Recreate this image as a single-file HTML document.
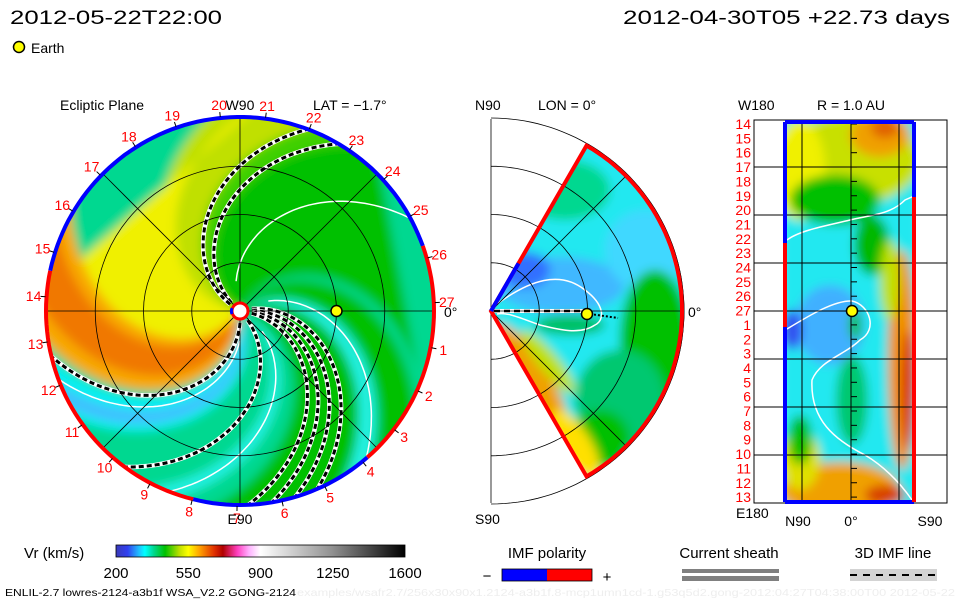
<!DOCTYPE html>
<html><head><meta charset="utf-8"><style>
html,body{margin:0;padding:0;background:#fff;}
svg{display:block;font-family:"Liberation Sans",sans-serif;}
</style></head><body>
<svg id="s" width="960" height="600" viewBox="0 0 960 600" xmlns="http://www.w3.org/2000/svg">
<defs>
<filter id="blur" x="-20%" y="-20%" width="140%" height="140%"><feGaussianBlur stdDeviation="5"/></filter>
<clipPath id="diskClip"><circle cx="240" cy="311" r="193"/></clipPath>
<clipPath id="wedgeClip"><path id="wedgePath" d=""/></clipPath>
<clipPath id="rectClip"><rect x="785" y="122" width="129" height="380"/></clipPath>
<linearGradient id="cbar" x1="0" x2="1" y1="0" y2="0">
<stop offset="0" stop-color="#3a3ab8"/><stop offset="0.04" stop-color="#3040f0"/>
<stop offset="0.08" stop-color="#20c0ff"/><stop offset="0.1" stop-color="#00ffff"/>
<stop offset="0.13" stop-color="#00d890"/><stop offset="0.17" stop-color="#00c000"/>
<stop offset="0.22" stop-color="#c0e000"/><stop offset="0.25" stop-color="#ffff00"/>
<stop offset="0.29" stop-color="#ffa000"/><stop offset="0.34" stop-color="#e03000"/>
<stop offset="0.37" stop-color="#b00000"/><stop offset="0.42" stop-color="#ff40c0"/>
<stop offset="0.46" stop-color="#ffb0ff"/><stop offset="0.5" stop-color="#ffffff"/>
<stop offset="0.75" stop-color="#909090"/><stop offset="1" stop-color="#000000"/>
</linearGradient>
</defs>

<text x="10" y="24" font-size="19" textLength="212" lengthAdjust="spacingAndGlyphs">2012-05-22T22:00</text>
<text x="623" y="24" font-size="19" textLength="327" lengthAdjust="spacingAndGlyphs">2012-04-30T05 +22.73 days</text>
<circle cx="19" cy="47" r="5.5" fill="#ffff00" stroke="#000" stroke-width="1.5"/>
<text x="31" y="53" font-size="14">Earth</text>

<g id="disk">
  <g clip-path="url(#diskClip)">
    <g id="diskFill" filter="url(#blur)"></g>
    <g id="diskLines"></g>
  </g>
  <g id="diskGrid" fill="none" stroke="#000" stroke-width="0.8"></g>
  <g id="diskBorder" fill="none" stroke-width="4"></g>
  <g id="diskLabels" font-size="14" fill="#ff0000"></g>
  <text x="60" y="110" font-size="14">Ecliptic Plane</text>
  <text x="240" y="110" font-size="14" text-anchor="middle">W90</text>
  <text x="313" y="110" font-size="14">LAT = −1.7°</text>
  <text x="240" y="524" font-size="14" text-anchor="middle">E90</text>
  <text x="444" y="317" font-size="14">0°</text>
</g>

<g id="mid">
  <g id="midGrid" fill="none" stroke="#000" stroke-width="0.8"></g>
  <g clip-path="url(#wedgeClip)">
    <g filter="url(#blur)">
      <rect x="480" y="100" width="220" height="420" fill="#20e8f0"/>
      <ellipse cx="565" cy="190" rx="45" ry="30" fill="#00d890"/>
      <ellipse cx="560" cy="285" rx="65" ry="28" fill="#40b8ff"/>
      <ellipse cx="525" cy="270" rx="25" ry="18" fill="#3070ff"/>
      <ellipse cx="645" cy="250" rx="40" ry="40" fill="#40d8ff"/>
      <ellipse cx="570" cy="325" rx="35" ry="10" fill="#00c060"/>
      <ellipse cx="655" cy="340" rx="35" ry="70" fill="#00c000"/>
      <ellipse cx="620" cy="400" rx="45" ry="50" fill="#00c870"/>
      <ellipse cx="600" cy="440" rx="30" ry="30" fill="#00c000"/>
      <ellipse cx="530" cy="380" rx="65" ry="20" fill="#f0a000" transform="rotate(58 530 380)"/>
      <ellipse cx="575" cy="445" rx="40" ry="16" fill="#ffe000" transform="rotate(58 575 445)"/>
      <ellipse cx="548" cy="362" rx="40" ry="10" fill="#c0e000" transform="rotate(50 548 362)"/>
    </g>
    <path d="M497 304 C530 280 560 270 585 290 C605 305 605 320 595 325 C580 335 560 330 540 325 C520 318 508 312 497 314" fill="none" stroke="#fff" stroke-width="1.5"/>
    <line x1="494" y1="311" x2="587" y2="311" stroke="#fff" stroke-width="4"/>
    <line x1="494" y1="311" x2="587" y2="311" stroke="#000" stroke-width="2.5" stroke-dasharray="6 4"/>
    <line x1="590" y1="314" x2="618" y2="318" stroke="#000" stroke-width="2" stroke-dasharray="2 2"/>
  </g>
  <g id="midGrid2" fill="none" stroke="#000" stroke-width="0.8"></g>
  <g id="midBorder" fill="none" stroke-width="4"></g>
  <circle cx="587" cy="314" r="5.5" fill="#ffff00" stroke="#000" stroke-width="1.5"/>
  <text x="475" y="110" font-size="14">N90</text>
  <text x="538" y="110" font-size="14">LON = 0°</text>
  <text x="475" y="524" font-size="14">S90</text>
  <text x="688" y="317" font-size="14">0°</text>
</g>

<g id="right">
  <rect x="754" y="120" width="193" height="383" fill="none" stroke="#000" stroke-width="1"/>
  <g clip-path="url(#rectClip)">
    <g filter="url(#blur)">
      <rect x="780" y="115" width="140" height="395" fill="#20e8f0"/>
      <ellipse cx="850" cy="160" rx="70" ry="45" fill="#c8e000"/>
      <ellipse cx="800" cy="170" rx="25" ry="50" fill="#f0f000"/>
      <ellipse cx="880" cy="135" rx="30" ry="22" fill="#f0a000"/>
      <ellipse cx="885" cy="128" rx="14" ry="10" fill="#e06000"/>
      <ellipse cx="835" cy="200" rx="45" ry="25" fill="#00c000"/>
      <ellipse cx="872" cy="245" rx="18" ry="30" fill="#00b800"/>
      <ellipse cx="830" cy="325" rx="35" ry="40" fill="#40b0ff"/>
      <ellipse cx="792" cy="330" rx="10" ry="20" fill="#3050f0"/>
      <ellipse cx="852" cy="400" rx="16" ry="45" fill="#00c870"/>
      <ellipse cx="855" cy="325" rx="6" ry="15" fill="#00c000"/>
      <ellipse cx="902" cy="360" rx="14" ry="110" fill="#f09000"/>
      <ellipse cx="908" cy="390" rx="7" ry="60" fill="#d83000"/>
      <ellipse cx="890" cy="280" rx="10" ry="40" fill="#c0e000"/>
      <ellipse cx="840" cy="490" rx="60" ry="28" fill="#f0a000"/>
      <ellipse cx="800" cy="460" rx="20" ry="30" fill="#e0e000"/>
      <ellipse cx="885" cy="495" rx="20" ry="10" fill="#d84000"/>
      <ellipse cx="800" cy="440" rx="12" ry="25" fill="#00c000"/>
    </g>
    <path d="M787 240 C800 230 830 225 850 220 C870 215 890 215 905 200 L914 196" fill="none" stroke="#fff" stroke-width="1.5"/>
    <path d="M787 329 C810 315 835 300 852 301 C870 305 878 330 860 340 C845 355 820 360 812 380 C810 420 835 440 865 455 C890 470 905 490 912 500" fill="none" stroke="#fff" stroke-width="1.5"/>
  </g>
  <g id="rightGrid" stroke="#000" stroke-width="1"></g>
  <g id="rightBorder" stroke-width="4"></g>
  <circle cx="852" cy="311" r="5.5" fill="#ffff00" stroke="#000" stroke-width="1.5"/>
  <g id="rightLabels" font-size="14" fill="#ff0000" text-anchor="end"></g>
  <text x="738" y="110" font-size="14">W180</text>
  <text x="851" y="110" font-size="14" text-anchor="middle">R = 1.0 AU</text>
  <text x="736" y="518" font-size="14">E180</text>
  <text x="798" y="526" font-size="14" text-anchor="middle">N90</text>
  <text x="851" y="526" font-size="14" text-anchor="middle">0°</text>
  <text x="930" y="526" font-size="14" text-anchor="middle">S90</text>
</g>

<g>
  <text x="24" y="558" font-size="15">Vr (km/s)</text>
  <rect x="116" y="545" width="289" height="12" fill="url(#cbar)" stroke="#000" stroke-width="0.8"/>
  <g id="cbarTicks" font-size="15" text-anchor="middle"></g>
</g>

<g>
  <text x="547" y="558" font-size="15" text-anchor="middle">IMF polarity</text>
  <text x="487" y="581" font-size="15" text-anchor="middle">−</text>
  <rect x="502" y="569" width="45" height="12" fill="#0000ff"/>
  <rect x="547" y="569" width="45" height="12" fill="#ff0000"/>
  <rect x="502" y="569" width="90" height="12" fill="none" stroke="#000" stroke-width="0.8"/>
  <text x="607" y="582" font-size="15" text-anchor="middle">+</text>
</g>
<g>
  <text x="729" y="558" font-size="15" text-anchor="middle">Current sheath</text>
  <rect x="682" y="569" width="97" height="4" fill="#808080"/>
  <rect x="682" y="576" width="97" height="5" fill="#808080"/>
</g>
<g>
  <text x="893" y="558" font-size="15" text-anchor="middle">3D IMF line</text>
  <rect x="850" y="569" width="87" height="12" fill="#d3d3d3"/>
  <line x1="850" y1="575" x2="937" y2="575" stroke="#000" stroke-width="2" stroke-dasharray="7 6"/>
</g>

<text x="5" y="596" font-size="10.5" textLength="291" lengthAdjust="spacingAndGlyphs">ENLIL-2.7 lowres-2124-a3b1f WSA_V2.2 GONG-2124</text>
<text x="297" y="596" font-size="10.5" fill="#eeeeee" textLength="658" lengthAdjust="spacingAndGlyphs">examples/wsafr2.7/256x30x90x1.2124-a3b1f.8-mcp1umn1cd-1.g53q5d2.gong-2012:04:27T04:38:00T00    2012-05-22</text>
</svg>
<script>
const NS='http://www.w3.org/2000/svg';
// ---- data ----
const dayLabels=[14,15,16,17,18,19,20,21,22,23,24,25,26,27,1,2,3,4,5,6,7,8,9,10,11,12,13];
const firstDayAngle=175.8;
const colorbarTicks=[200,550,900,1250,1600];
const gridRadiiAU=[0.5,1.0,1.5,2.0];
const earthAU=1.0;
const bandStart=[0,60,140,152,172,232,240,276,284,-34,-15,25,36];
const bandEnd=[360,140,165,182,268,272,262,296,292,-26,25,34,55];
const bandColor=['#00d890','#00c000','#40d000','#c0e000','#f0f000','#f8a800','#f07800','#00f0f0','#40c0ff','#20f0e0','#00c000','#20f0e0','#00c000'];
const sheathStarts=[141,151,15,8,1,-6,-85,-45];
const whiteStarts=[110,282,-30,32];
const diskBorderStart=[168,19.6,-49,-104];
const diskBorderEnd=[19.6,-49,-104,-192];
const diskBorderPol=['-','+','-','+'];
const rightRows=27;

const CX=240,CY=311,R=193,K=0.42,PXAU=96.5;
function mk(tag,attrs,parent){const e=document.createElementNS(NS,tag);for(const k in attrs)e.setAttribute(k,attrs[k]);parent.appendChild(e);return e;}
function pol(deg,r,cx,cy){const a=deg*Math.PI/180;return [cx+r*Math.cos(a),cy-r*Math.sin(a)];}
function spiral(phi0,r){return pol(phi0-K*r,r,CX,CY);}
function polColor(p){return p==='+'?'#ff0000':'#0000ff';}

const fill=document.getElementById('diskFill');
for(let i=0;i<bandStart.length;i++){
  if(bandEnd[i]-bandStart[i]>=360){mk('circle',{cx:CX,cy:CY,r:R+10,fill:bandColor[i]},fill);continue;}
  let pts=[];
  for(let r=0;r<=R+20;r+=5)pts.push(spiral(bandStart[i],r));
  for(let r=R+20;r>=0;r-=5)pts.push(spiral(bandEnd[i],r));
  const p=mk('polygon',{points:pts.map(q=>q[0].toFixed(1)+','+q[1].toFixed(1)).join(' '),fill:bandColor[i]},fill);
  
  
}
const lines=document.getElementById('diskLines');
function spiralPath(phi0,r0){let d='';for(let r=r0;r<=R+5;r+=3){const q=spiral(phi0,r);d+=(d?'L':'M')+q[0].toFixed(1)+' '+q[1].toFixed(1);}return d;}
whiteStarts.forEach(a=>{const p=mk('path',{d:spiralPath(a,30),fill:'none',stroke:'#fff','stroke-width':1.5},lines);
  
  });
sheathStarts.forEach(a=>{
  mk('path',{d:spiralPath(a,12),fill:'none',stroke:'#fff','stroke-width':4.5},lines);
  const p=mk('path',{d:spiralPath(a,12),fill:'none',stroke:'#000','stroke-width':3,'stroke-dasharray':'5 3'},lines);
  
  
});
const g=document.getElementById('diskGrid');
gridRadiiAU.slice(0,3).forEach(a=>mk('circle',{cx:CX,cy:CY,r:a*PXAU},g));
mk('line',{x1:CX-R,y1:CY,x2:CX+R,y2:CY},g);
mk('line',{x1:CX,y1:CY-R-3,x2:CX,y2:CY+R+3},g);
[45,135].forEach(a=>{const p1=pol(a,R,CX,CY),p2=pol(a+180,R,CX,CY);mk('line',{x1:p1[0],y1:p1[1],x2:p2[0],y2:p2[1]},g);});
mk('circle',{cx:CX,cy:CY,r:8,fill:'#fff',stroke:'#ff0000','stroke-width':3},g);
mk('path',{d:'M'+(CX-8)+' '+(CY-3)+' A8 8 0 0 0 '+(CX-8)+' '+(CY+3),stroke:'#0000ff','stroke-width':3},g);
const ep=pol(0,earthAU*PXAU,CX,CY);
const earth=mk('circle',{cx:ep[0],cy:ep[1],r:5.5,fill:'#ffff00',stroke:'#000','stroke-width':1.5},document.getElementById('disk'));


const b=document.getElementById('diskBorder');
function arcD(a0,a1,r,cx,cy){let d='';const n=Math.ceil(Math.abs(a1-a0)/2);for(let i=0;i<=n;i++){const q=pol(a0+(a1-a0)*i/n,r,cx,cy);d+=(i?'L':'M')+q[0].toFixed(1)+' '+q[1].toFixed(1);}return d;}
for(let i=0;i<diskBorderStart.length;i++){
  const p=mk('path',{d:arcD(diskBorderStart[i],diskBorderEnd[i],R+1,CX,CY),stroke:polColor(diskBorderPol[i])},b);
  
  
}
const L=document.getElementById('diskLabels');
dayLabels.forEach((d,i)=>{
  const a=firstDayAngle-i*360/dayLabels.length;
  const t1=pol(a,R+2,CX,CY),t2=pol(a,R+7,CX,CY);
  mk('line',{x1:t1[0],y1:t1[1],x2:t2[0],y2:t2[1],stroke:'#000','stroke-width':1},L);
  const q=pol(a,207,CX,CY);
  const t=mk('text',{x:q[0].toFixed(1),y:(q[1]+5).toFixed(1),'text-anchor':'middle'},L);
  t.textContent=d;
  
  
});

const MX=491,MY=311,MR=191;
const wd='M'+MX+' '+MY+' '+arcD(60,-60,MR,MX,MY).replace('M','L')+' Z';
document.getElementById('wedgePath').setAttribute('d',wd);
const mg=document.getElementById('midGrid');
gridRadiiAU.forEach(a=>mk('path',{d:arcD(90,-90,a*PXAU,MX,MY)},mg));
mk('line',{x1:MX,y1:MY-192,x2:MX,y2:MY+192},mg);
const mg2=document.getElementById('midGrid2');
gridRadiiAU.forEach(a=>mk('path',{d:arcD(60,-60,a*PXAU,MX,MY)},mg2));
mk('line',{x1:MX,y1:MY,x2:MX+MR,y2:MY},mg2);
[45,-45].forEach(a=>{const q=pol(a,MR,MX,MY);mk('line',{x1:MX,y1:MY,x2:q[0],y2:q[1]},mg2);});
const mb=document.getElementById('midBorder');
mk('path',{d:wd,stroke:'#ff0000'},mb);
const bq=pol(60,55,MX,MY);
mk('line',{x1:MX,y1:MY,x2:bq[0],y2:bq[1],stroke:'#0000ff'},mb);

const rg=document.getElementById('rightGrid');
const RX0=785,RX1=914,RY0=122,RY1=502,BX0=754,BX1=947;
[167,215,263,311,359,407,455].forEach(y=>mk('line',{x1:BX0,y1:y,x2:BX1,y2:y},rg));
[802,851,899].forEach(x=>mk('line',{x1:x,y1:RY0,x2:x,y2:RY1},rg));
for(let i=0;i<rightRows;i++){const y=124+i*14.35;mk('line',{x1:851,y1:y,x2:857,y2:y},rg);}
const rb=document.getElementById('rightBorder');
mk('line',{x1:RX0,y1:RY0,x2:RX1,y2:RY0,stroke:'#0000ff'},rb);
mk('line',{x1:RX0,y1:RY1,x2:RX1,y2:RY1,stroke:'#0000ff'},rb);
mk('line',{x1:RX0,y1:RY0,x2:RX0,y2:243,stroke:'#0000ff'},rb);
mk('line',{x1:RX0,y1:243,x2:RX0,y2:327,stroke:'#ff0000'},rb);
mk('line',{x1:RX0,y1:327,x2:RX0,y2:RY1,stroke:'#0000ff'},rb);
mk('line',{x1:RX1,y1:RY0,x2:RX1,y2:197,stroke:'#0000ff'},rb);
mk('line',{x1:RX1,y1:197,x2:RX1,y2:RY1,stroke:'#ff0000'},rb);
const rl=document.getElementById('rightLabels');
dayLabels.forEach((d,i)=>{const t=mk('text',{x:751,y:(129+i*14.35).toFixed(1)},rl);t.textContent=d;
  
  });

const ct=document.getElementById('cbarTicks');
colorbarTicks.forEach(v=>{const x=116+(v-200)/(1600-200)*289;const t=mk('text',{x:x.toFixed(1),y:578},ct);t.textContent=v;
  
  });
</script>
</body></html>
